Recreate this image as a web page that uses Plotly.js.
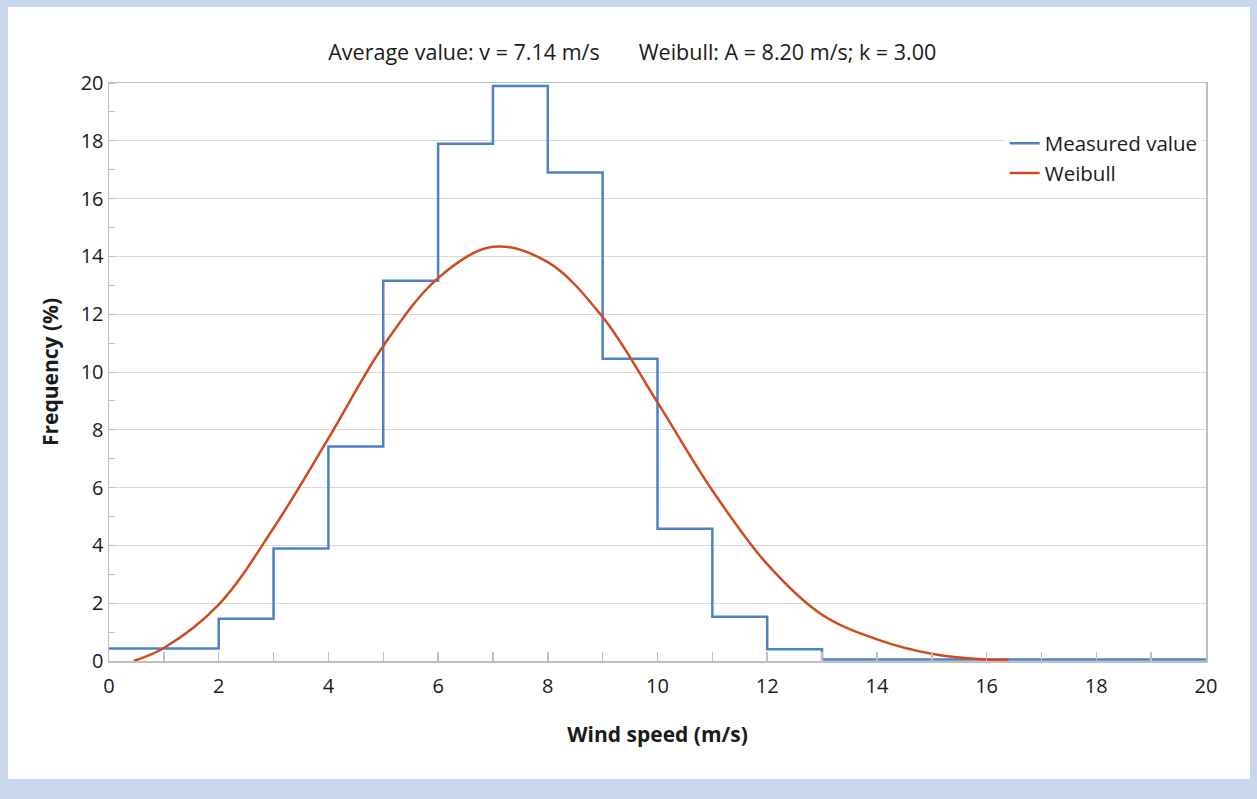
<!DOCTYPE html>
<html>
<head>
<meta charset="utf-8">
<script src="https://cdn.plot.ly/plotly-3.0.1.min.js"></script>
<style>html,body{margin:0;padding:0;background:#c8d7ec;}#chart{width:1257px;height:799px;}</style>
</head>
<body>
<div id="chart"></div>
<script>
// Measured frequency histogram (bin edges in m/s, values in %)
const binEdges = [0, 2, 3, 4, 5, 6, 7, 8, 9, 10, 11, 12, 13, 20];
const measuredValues = [0.43, 1.46, 3.89, 7.42, 13.16, 17.9, 19.9, 16.9, 10.46, 4.58, 1.53, 0.41, 0.05];

// Weibull curve
const weibullX = [0.45, 1, 2, 3, 4, 5, 6, 7, 8, 9, 10, 11, 12, 13, 14, 15, 16, 16.4];
const weibullY = [0.0, 0.45, 1.95, 4.6, 7.7, 10.9, 13.25, 14.33, 13.8, 11.9, 8.95, 5.9, 3.35, 1.6, 0.75, 0.25, 0.05, 0.05];

const xTicks = [0, 2, 4, 6, 8, 10, 12, 14, 16, 18, 20];
const yTicks = [0, 2, 4, 6, 8, 10, 12, 14, 16, 18, 20];

const titleText = 'Average value: v = 7.14 m/s\u00a0\u00a0\u00a0\u00a0\u00a0\u00a0\u00a0Weibull: A = 8.20 m/s; k = 3.00';

const stepY = measuredValues.concat([measuredValues[measuredValues.length - 1]]);

const FONT = 'Open Sans, Lato, sans-serif';

const traces = [
  {
    x: binEdges, y: stepY, type: 'scatter', mode: 'lines',
    name: 'Measured value',
    line: {color: '#4f81c6', width: 2.5, shape: 'hv'}
  },
  {
    x: weibullX, y: weibullY, type: 'scatter', mode: 'lines',
    name: 'Weibull',
    line: {color: '#cf4a1c', width: 2.5, shape: 'spline', smoothing: 1}
  }
];

const layout = {
  width: 1257, height: 799,
  paper_bgcolor: '#c8d7ec',
  plot_bgcolor: '#ffffff',
  margin: {l: 109, r: 51, t: 83, b: 138},
  font: {family: FONT, size: 20, color: '#1a1a1a'},
  title: {text: titleText, font: {family: FONT, size: 21.5, color: '#1a1a1a'},
          xref: 'container', x: 0.503, xanchor: 'center', yref: 'container', y: 0.934, yanchor: 'middle'},
  showlegend: true,
  legend: {x: 0.997, xanchor: 'right', y: 0.93, yanchor: 'top', bgcolor: '#ffffff',
           font: {family: FONT, size: 20.5, color: '#1a1a1a'}, tracegroupgap: 0},
  xaxis: {
    range: [0, 20], tickvals: xTicks, ticktext: xTicks.map(String),
    showgrid: false, zeroline: false,
    showline: true, linecolor: '#bfbfbf', linewidth: 1.5, mirror: true,
    ticks: 'inside', ticklen: 9, tickcolor: '#bfbfbf', tickwidth: 1.5,
    ticklabelstandoff: 6,
    minor: {dtick: 1, ticks: 'inside', ticklen: 9, tickcolor: '#bfbfbf', tickwidth: 1.5, showgrid: false},
    tickfont: {family: FONT, size: 20, color: '#1a1a1a'},
    title: {text: '<b>Wind speed (m/s)</b>', font: {family: FONT, size: 21, color: '#1a1a1a'}, standoff: 30}
  },
  yaxis: {
    range: [0, 20], tickvals: yTicks, ticktext: yTicks.map(String),
    showgrid: true, gridcolor: '#d9d9d9', gridwidth: 1, zeroline: false,
    showline: true, linecolor: '#bfbfbf', linewidth: 1.5, mirror: true,
    ticks: '',
    minor: {dtick: 1, tick0: 1, ticks: 'inside', ticklen: 6, tickcolor: '#bfbfbf', tickwidth: 1, showgrid: false},
    tickfont: {family: FONT, size: 20, color: '#1a1a1a'},
    title: {text: '<b>Frequency (%)</b>', font: {family: FONT, size: 21, color: '#1a1a1a'}, standoff: 16}
  },
  shapes: [
    {type: 'rect', xref: 'paper', yref: 'paper', x0: -0.0921, x1: 1.0401, y0: -0.2042, y1: 1.1315,
     fillcolor: '#ffffff', line: {width: 0}, layer: 'below'}
  ]
};

Plotly.newPlot('chart', traces, layout, {displayModeBar: false, staticPlot: true});
</script>
</body>
</html>
